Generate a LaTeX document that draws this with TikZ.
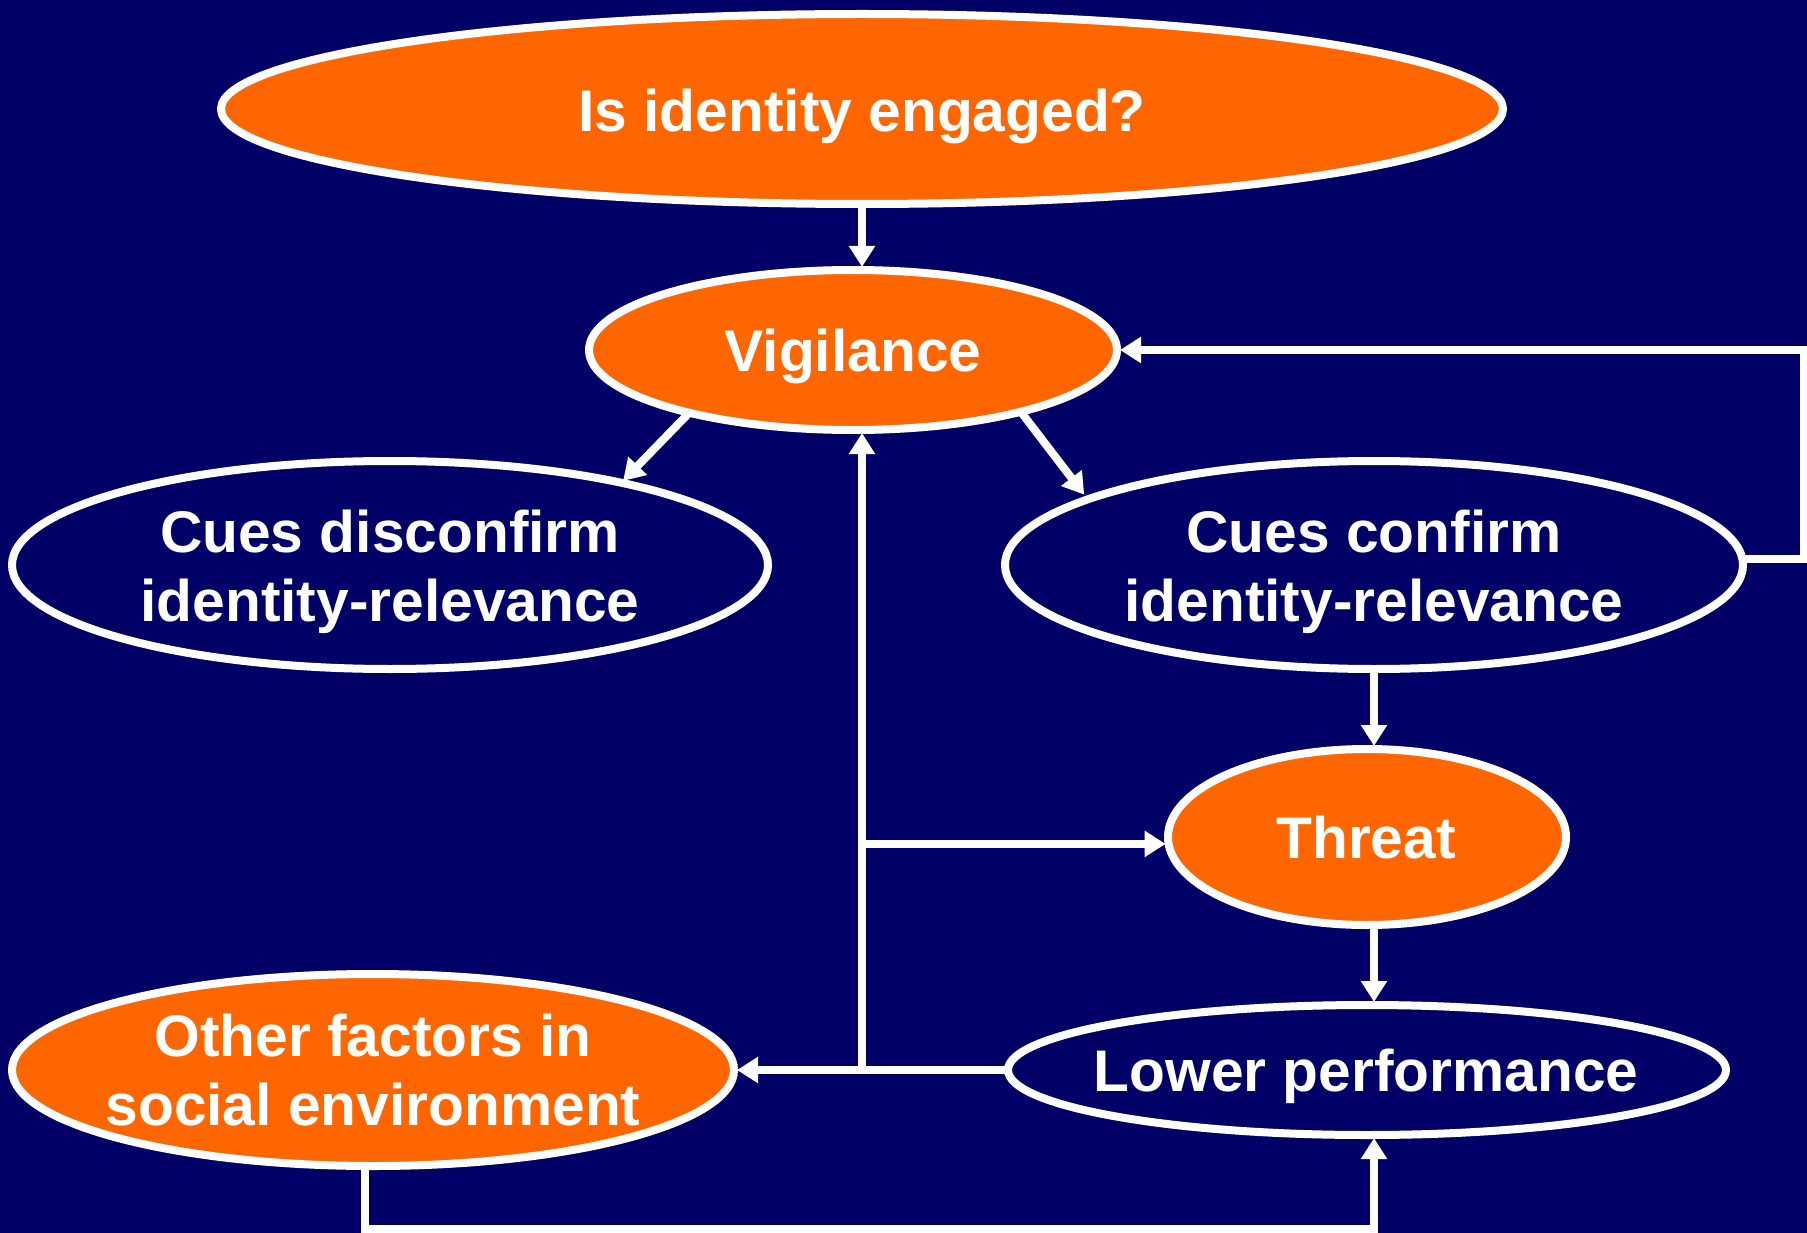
\documentclass[tikz,border=0pt]{standalone}
\usepackage{fontspec}
\setmainfont{Liberation Sans}
\usetikzlibrary{shapes.geometric,arrows.meta,calc}
\definecolor{navy}{RGB}{0,0,102}
\definecolor{orng}{RGB}{255,102,0}
\begin{document}
\begin{tikzpicture}[x=1pt,y=-1pt,
  bubble/.style={ellipse, draw=white, line width=8pt, inner sep=0pt, outer sep=0pt},
  hot/.style={bubble, fill=orng},
  cool/.style={bubble, fill=navy},
  caption/.style={text=white, inner sep=0pt, align=center,
    font=\bfseries\fontsize{58.7}{69}\selectfont},
  link/.style={draw=white, line width=8pt, -{Triangle[length=21pt,width=25pt]}, shorten >=3pt}]
\fill[navy] (0,0) rectangle (1807,1233);
\useasboundingbox (0,0) rectangle (1807,1233);

% guide coordinates for the elbow connectors
\coordinate (sx) at (862,0);   % central spine
\coordinate (rx) at (1804,0);  % right-hand return line
\coordinate (by) at (0,1229);  % bottom return line

% ellipses
\node[hot, minimum width=1282pt, minimum height=190pt] (top) at (862,109) {};
\node[hot, minimum width=528pt, minimum height=160pt] (vig) at (853,350) {};
\node[cool, minimum width=756pt, minimum height=208pt] (dis) at (390,565) {};
\node[cool, minimum width=738pt, minimum height=208pt] (conf) at (1374,565) {};
\node[hot, minimum width=398pt, minimum height=176pt] (thr) at (1367,837) {};
\node[cool, minimum width=718pt, minimum height=130pt] (low) at (1367,1070) {};
\node[hot, minimum width=722pt, minimum height=192pt] (oth) at (373,1070) {};

% labels
\node[caption, yshift=-7pt] (topL) at (top) {Is identity engaged?};
\node[caption, yshift=-6pt] (vigL) at (vig) {Vigilance};
\node[caption, yshift=-7pt] (disL) at (dis) {Cues disconfirm\\identity-relevance};
\node[caption, yshift=-7pt] (confL) at (conf) {Cues confirm\\identity-relevance};
\node[caption, yshift=-1pt, xshift=-1pt] (thrL) at (thr) {Threat};
\node[caption, yshift=-6pt, xshift=-1pt] (lowL) at (low) {Lower performance};
\node[caption] (othL) at (oth) {Other factors in\\social environment};

% connectors
\draw[link] (top.south) -- (top.south |- vig.north);
\draw[link] ($(vig)+(-164,63)$) -- ($(dis)+(231,-82)$);
\draw[link] ($(vig)+(168,62)$) -- ($(conf)+(-288,-68)$);
\draw[link] (conf.1.25) -- (conf.1.25 -| rx) |- (vig.east);
\draw[link] (conf.south) -- (conf.south |- thr.north);
\draw[link] (conf.south |- thr.south) -- (conf.south |- low.north);
\draw[link] (low.west) -- (oth.east);
\draw[link] (sx |- low.west) -- (sx |- vig.south);
\draw[link] (sx |- thr.182.3) -- (thr.182.3);
\draw[link] (oth.265.8) -- (oth.265.8 |- by) -| (conf.south |- low.south);
\end{tikzpicture}
\end{document}
